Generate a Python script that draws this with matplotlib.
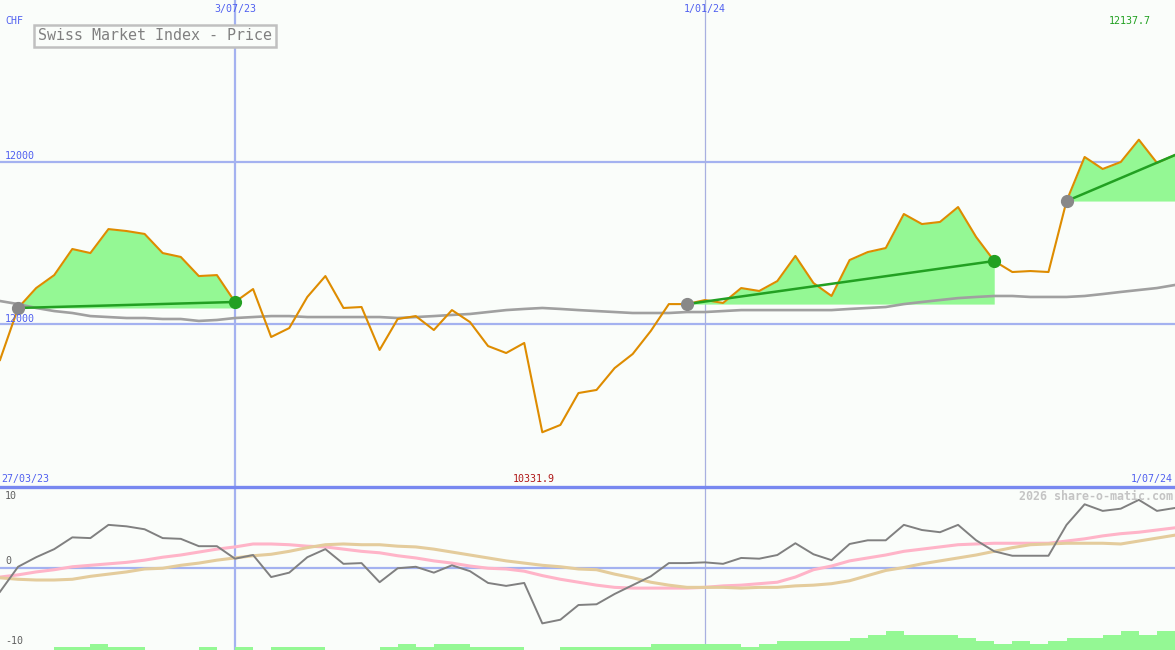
import numpy as np
import matplotlib
matplotlib.use("Agg")
import matplotlib.pyplot as plt

# weekly closes, Swiss Market Index (week 0 = start of chart)
price = [10778, 11099, 11222, 11302, 11463, 11438, 11586, 11574, 11556, 11438,
         11414, 11296, 11302, 11136, 11216, 10920, 10975, 11167, 11296, 11099,
         11105, 10840, 11031, 11049, 10963, 11086, 11012, 10864, 10821, 10883,
         10331.9, 10377, 10574, 10593, 10728, 10815, 10957, 11123, 11123, 11148,
         11130, 11222, 11204, 11265, 11420, 11253, 11173, 11395, 11444, 11469,
         11679, 11617, 11630, 11722, 11537, 11389, 11321, 11327, 11321, 11759,
         12031, 11957, 12000, 12137.7, 11995, 12043]

moving_avg = [11142, 11123, 11099, 11080, 11068, 11049, 11043, 11037, 11037, 11031,
              11031, 11019, 11025, 11037, 11043, 11049, 11049, 11043, 11043, 11043,
              11043, 11043, 11037, 11043, 11049, 11056, 11062, 11074, 11086, 11093,
              11099, 11093, 11086, 11080, 11074, 11068, 11068, 11068, 11074, 11074,
              11080, 11086, 11086, 11086, 11086, 11086, 11086, 11093, 11099, 11105,
              11123, 11136, 11148, 11160, 11167, 11173, 11173, 11167, 11167, 11167,
              11173, 11185, 11198, 11210, 11222, 11241]

momentum = [-3.3, 0.1, 1.4, 2.5, 4.1, 4.0, 5.8, 5.6, 5.2, 4.0,
            3.9, 2.9, 2.9, 1.2, 1.7, -1.3, -0.7, 1.4, 2.5, 0.5,
            0.6, -2.0, -0.1, 0.1, -0.7, 0.3, -0.5, -2.1, -2.5, -2.1,
            -7.6, -7.1, -5.1, -5.0, -3.6, -2.4, -1.2, 0.6, 0.6, 0.7,
            0.5, 1.3, 1.2, 1.7, 3.3, 1.8, 1.0, 3.2, 3.7, 3.7,
            5.8, 5.1, 4.8, 5.8, 3.7, 2.2, 1.6, 1.6, 1.6, 5.8,
            8.6, 7.7, 8.0, 9.2, 7.7, 8.1]

pink_avg = [-1.3, -1.0, -0.6, -0.3, 0.1, 0.3, 0.5, 0.7, 1.0, 1.4,
            1.7, 2.1, 2.5, 2.8, 3.2, 3.2, 3.1, 2.9, 2.8, 2.5,
            2.2, 2.0, 1.6, 1.3, 0.9, 0.6, 0.2, -0.1, -0.2, -0.5,
            -1.1, -1.6, -2.0, -2.4, -2.7, -2.8, -2.8, -2.8, -2.8, -2.7,
            -2.5, -2.4, -2.2, -2.0, -1.3, -0.3, 0.2, 0.9, 1.3, 1.7,
            2.2, 2.5, 2.8, 3.1, 3.2, 3.3, 3.3, 3.3, 3.3, 3.6,
            3.9, 4.3, 4.6, 4.8, 5.1, 5.4]

tan_avg = [-1.4, -1.6, -1.7, -1.7, -1.6, -1.2, -0.9, -0.6, -0.2, -0.1,
           0.3, 0.6, 1.0, 1.3, 1.6, 1.8, 2.2, 2.7, 3.1, 3.2,
           3.1, 3.1, 2.9, 2.8, 2.5, 2.1, 1.7, 1.3, 0.9, 0.6,
           0.3, 0.1, -0.2, -0.3, -0.9, -1.4, -2.0, -2.4, -2.7, -2.7,
           -2.7, -2.8, -2.7, -2.7, -2.5, -2.4, -2.2, -1.8, -1.1, -0.4,
           0.0, 0.5, 0.9, 1.3, 1.7, 2.2, 2.7, 3.1, 3.2, 3.3,
           3.3, 3.3, 3.2, 3.6, 4.0, 4.4]

volume_level = [0, 0, 0, 1, 1, 2, 1, 1, 0, 0, 0, 1, 0, 1, 0, 1, 1, 1, 0, 0,
                0, 1, 2, 1, 2, 2, 1, 1, 1, 0, 0, 1, 1, 1, 1, 1, 2, 2, 2, 2,
                2, 1, 2, 3, 3, 3, 3, 4, 5, 6, 5, 5, 5, 4, 3, 2, 3, 2, 3, 4,
                4, 5, 6, 5, 6, 0]

# trades: (entry week, exit week)
trades = [(1, 13), (38, 55), (59, 65)]
open_trade = 2

date_weeks = [13, 39]
date_labels = ["3/07/23", "1/01/24"]

weeks = np.arange(len(price))
price = np.array(price)

W, H = 1175, 650
fig = plt.figure(figsize=(W / 100, H / 100), dpi=100)
bg = "#fafdfa"
fig.patch.set_facecolor(bg)

split = 487
ax = fig.add_axes([0, 1 - split / H, 1, split / H])
ax2 = fig.add_axes([0, 0, 1, 1 - split / H])
for a in (ax, ax2):
    a.set_facecolor(bg)
    a.set_axis_off()
    a.set_xlim(0, len(price) - 1)

ax.set_ylim(9994, 13000)
ax2.set_ylim(-11.22, 10.95)

grid = "#a4b2f0"
# price panel grid
for lvl in (12000, 11000):
    ax.axhline(lvl, color=grid, lw=1.6, zorder=1)
ax.axvline(date_weeks[0], color=grid, lw=1.6, zorder=1)
ax.axvline(date_weeks[1], color="#a8b0e0", lw=0.9, zorder=1)

# trades: green area + trend line
for k, (a0, a1) in enumerate(trades):
    seg = weeks[a0:a1 + 1]
    ax.fill_between(seg, price[a0], price[a0:a1 + 1], color="#94f894", lw=0, zorder=2)

ax.plot(weeks, moving_avg, color="#a0a0a0", lw=1.9, zorder=3)
ax.plot(weeks, price, color="#de8c00", lw=1.5, zorder=4)

for k, (a0, a1) in enumerate(trades):
    ax.plot([a0, a1], [price[a0], price[a1]], color="#22a022", lw=1.8, zorder=5)
    ax.plot(a0, price[a0], "o", color="#888888", ms=8.5, zorder=6)
    if k != open_trade:
        ax.plot(a1, price[a1], "o", color="#22a022", ms=8.5, zorder=6)

# lower panel
ax2.axhline(0, color=grid, lw=1.6, zorder=1)
ax2.axvline(date_weeks[0], color=grid, lw=1.6, zorder=1)
ax2.axvline(date_weeks[1], color="#a8b0e0", lw=0.9, zorder=1)
ax2.bar(weeks, np.array(volume_level) * 0.42, width=1, align="edge", bottom=-11.22,
        color="#94f894", lw=0, zorder=2)
ax2.plot(weeks, pink_avg, color="#ffb4c8", lw=2.2, zorder=3)
ax2.plot(weeks, tan_avg, color="#e4cc9c", lw=2.2, zorder=3)
ax2.plot(weeks, momentum, color="#808080", lw=1.4, zorder=4)
ax2.axhline(10.95, color="#7888f0", lw=2.4, clip_on=False, zorder=7)


def put(x, y, s, **kw):
    kw.setdefault("family", "DejaVu Sans Mono")
    kw.setdefault("fontsize", 7.2)
    kw.setdefault("va", "center")
    fig.text(x / W, 1 - y / H, s, **kw)


blue = "#5060f0"
put(5, 21, "CHF", color=blue)
for wk, lab in zip(date_weeks, date_labels):
    put(wk * W / (len(price) - 1), 9, lab, color=blue, ha="center")
put(1151, 21, "12137.7", color="#20a020", ha="right")
put(5, 156, "12000", color=blue)
put(5, 319, "12000", color=blue)
put(1, 479, "27/03/23", color=blue)
put(534, 479, "10331.9", color="#b01818", ha="center")
put(1173, 479, "1/07/24", color=blue, ha="right")
put(1173, 496, "2026 share-o-matic.com", color="#c4c4c4", ha="right",
    fontsize=8.4, fontweight="bold")
put(5, 496, "10", color="#606060")
put(5, 561, "0", color="#606060")
put(5, 641, "-10", color="#606060")
put(155, 36, "Swiss Market Index - Price", color="#808080", ha="center",
    fontsize=10.8,
    bbox=dict(boxstyle="square,pad=0.25", fc=bg, ec="#c0c0c0", lw=1.8))

fig.savefig("out.png", dpi=100, facecolor=bg)
